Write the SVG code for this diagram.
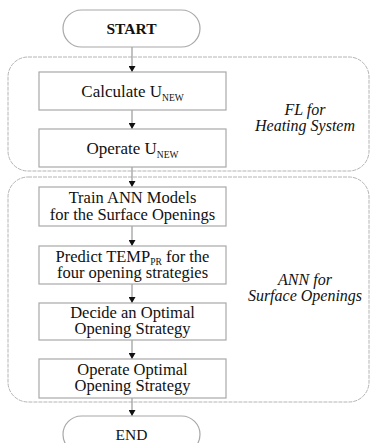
<svg xmlns="http://www.w3.org/2000/svg" width="371" height="443" viewBox="0 0 371 443">
<defs>
<style>
.grp{fill:none;stroke:#b4b4b4;stroke-width:1;stroke-dasharray:4 1}
.box{fill:#fff;stroke:#a8a8a8;stroke-width:1.2}
.term{fill:#fff;stroke:#a8a8a8;stroke-width:1.2}
.t{font-family:"Liberation Serif","DejaVu Serif",serif;font-size:16.5px;fill:#111;text-anchor:middle}
.s1{font-size:17px}
.b{font-weight:bold;font-size:15.5px}
.e{font-size:15.5px}
.sub{font-size:9.5px}
.lab{font-family:"Liberation Serif","DejaVu Serif",serif;font-size:16px;font-style:italic;fill:#111;text-anchor:middle}
.ln{stroke:#999;stroke-width:1.2;fill:none}
</style>
<marker id="ah" markerWidth="7" markerHeight="7" refX="6" refY="3.5" orient="auto" markerUnits="userSpaceOnUse">
<path d="M0,0 L6,3.5 L0,7 Z" fill="#111"/>
</marker>
</defs>
<rect width="371" height="443" fill="#fff"/>
<g id="group-fl">
<rect class="grp" x="8" y="57" width="361" height="114" rx="20" ry="20"/>
<text class="lab" x="305" y="115">FL for</text>
<text class="lab" x="305" y="131">Heating System</text>
</g>
<g id="group-ann">
<rect class="grp" x="8" y="177" width="361" height="225" rx="20" ry="20"/>
<text class="lab" x="305" y="285">ANN for</text>
<text class="lab" x="305" y="301">Surface Openings</text>
</g>
<g id="connectors">
<line class="ln" x1="132" y1="47" x2="132" y2="72" marker-end="url(#ah)"/>
<line class="ln" x1="132" y1="110" x2="132" y2="129" marker-end="url(#ah)"/>
<line class="ln" x1="132" y1="167" x2="132" y2="187" marker-end="url(#ah)"/>
<line class="ln" x1="132" y1="226" x2="132" y2="246" marker-end="url(#ah)"/>
<line class="ln" x1="132" y1="284" x2="132" y2="303" marker-end="url(#ah)"/>
<line class="ln" x1="132" y1="340" x2="132" y2="359" marker-end="url(#ah)"/>
<line class="ln" x1="132" y1="398" x2="132" y2="416" marker-end="url(#ah)"/>
</g>
<g id="start">
<rect class="term" x="63" y="10" width="137" height="37" rx="18.5" ry="18.5"/>
<text class="t b" x="131.5" y="34">START</text>
</g>
<g id="calc">
<rect class="box" x="39" y="72" width="187" height="38"/>
<text class="t s1" x="132.5" y="97">Calculate U<tspan class="sub" dy="4">NEW</tspan></text>
</g>
<g id="operate-u">
<rect class="box" x="39" y="129" width="187" height="38"/>
<text class="t s1" x="132.5" y="154">Operate U<tspan class="sub" dy="4">NEW</tspan></text>
</g>
<g id="train">
<rect class="box" x="39" y="187" width="187" height="39"/>
<text class="t" x="132.5" y="203">Train ANN Models</text>
<text class="t" x="132.5" y="220">for the Surface Openings</text>
</g>
<g id="predict">
<rect class="box" x="39" y="246" width="187" height="38"/>
<text class="t" x="132.5" y="262">Predict TEMP<tspan class="sub" dy="3">PR</tspan><tspan dy="-3"> for the</tspan></text>
<text class="t" x="132.5" y="278">four opening strategies</text>
</g>
<g id="decide">
<rect class="box" x="39" y="303" width="187" height="37"/>
<text class="t" x="132.5" y="318">Decide an Optimal</text>
<text class="t" x="132.5" y="334">Opening Strategy</text>
</g>
<g id="operate-opt">
<rect class="box" x="39" y="359" width="187" height="39"/>
<text class="t" x="132.5" y="375">Operate Optimal</text>
<text class="t" x="132.5" y="391">Opening Strategy</text>
</g>
<g id="end">
<rect class="term" x="63" y="416" width="137" height="37" rx="18.5" ry="18.5"/>
<text class="t e" x="131.5" y="440">END</text>
</g>
</svg>
